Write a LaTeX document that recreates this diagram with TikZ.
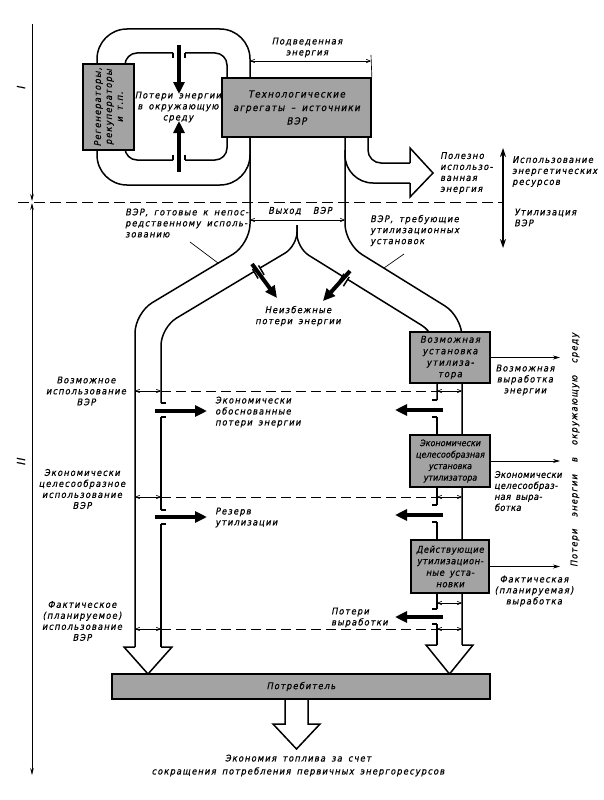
\documentclass[tikz,border=0pt]{standalone}
\usepackage{fontspec}
\setmainfont{DejaVu Sans Condensed}[FakeSlant=0.2, LetterSpace=12, FakeBold=0.6, WordSpace=1.6]
\usetikzlibrary{arrows.meta}
\definecolor{boxgray}{gray}{0.64}
\newcommand\lab{\fontsize{9.3}{11}\selectfont}
\begin{document}
\begin{tikzpicture}[x=1pt,y=-1pt,
  wall/.style={line width=1.5pt},
  thinl/.style={line width=0.65pt},
  gbox/.style={draw, line width=1.7pt, fill=boxgray, inner sep=0pt, align=center, font=\lab},
  lbl/.style={font=\lab, align=center, inner sep=0pt},
  lbll/.style={font=\lab, align=left, inner sep=0pt, anchor=west},
  blk/.style={line width=4pt, -{Triangle[length=12pt,width=11pt]}},
  dimarr/.style={thinl, {Straight Barb[length=4pt,width=3.5pt]}-{Straight Barb[length=4pt,width=3.5pt]}},
  dsh/.style={thinl, dash pattern=on 10pt off 5pt},
  outarr/.style={thinl, -{Stealth[length=7pt,width=4pt]}},
  bigopen/.style={wall, fill=white}]
\useasboundingbox (0,0) rectangle (603,800);
\fill[white] (0,0) rectangle (603,800);

% ---- left axis ----
\coordinate (ax0) at (32,24);
\coordinate (axm1) at (32,201);
\coordinate (axm2) at (32,203);
\coordinate (ax1) at (32,775);
\draw[thinl, -{Stealth[length=7pt,width=3.5pt]}] (ax0) -- (axm1);
\draw[thinl, {Stealth[length=7pt,width=3.5pt]}-{Stealth[length=7pt,width=3.5pt]}] (axm2) -- (ax1);
\node[font=\fontsize{11}{11}\selectfont, rotate=90] (rI) at (21,88) {I};
\node[font=\fontsize{11}{11}\selectfont, rotate=90] (rII) at (21,462) {II};

% ---- top dashed line ----
\coordinate (d0a) at (18,202);
\coordinate (d0b) at (503,202);
\draw[thinl, dash pattern=on 11pt off 5pt] (d0a) -- (d0b);

% ---- loop of regenerators ----
\draw[wall, rounded corners=30] (250,78) -- (250,29) -- (97,29) -- (97,185) -- (250,185) -- (250,137);
\draw[wall, rounded corners=12] (173,53) -- (125,53) -- (125,160) -- (173,160);
\draw[wall, rounded corners=12] (185,53) -- (227,53) -- (227,160) -- (185,160);
\draw[wall] (173,53) -- (173,58) (185,53) -- (185,58) (173,160) -- (173,155) (185,160) -- (185,155);
\coordinate (la0) at (179,45);
\coordinate (la1) at (179,94);
\coordinate (lb0) at (179,172);
\coordinate (lb1) at (179,121);
\draw[blk] (la0) -- (la1);
\draw[blk] (lb0) -- (lb1);
\node[lbl] (lossenv) at (178,107) {Потери энергии\\в окружающую\\среду};

% ---- useful energy arrow ----
\draw[wall, rounded corners=13] (368,137) -- (368,163) -- (410,163);
\draw[bigopen] (410,163) -- (410,148) -- (433,173) -- (410,197) -- (410,183);
\draw[wall, rounded corners=28] (410,183) -- (345,183) -- (345,150);

% ---- output channels ----
\draw[wall, rounded corners=20] (250,137) -- (250,244) -- (135,313) -- (135,647);
\draw[wall, rounded corners=20] (345,137) -- (345,244) -- (462,316.5) -- (462,645);
% left inner wall
\draw[wall, rounded corners=14] (297,225) -- (297,246) -- (260,268);
\draw[wall, rounded corners=18] (254,271.6) -- (161,327.4) -- (161,403);
\draw[wall] (161,417) -- (161,510);
\draw[wall] (161,524) -- (161,647);
\draw[wall] (161,403) -- (166,403) (161,417) -- (166,417) (161,510) -- (166,510) (161,524) -- (166,524);
\draw[wall] (258.5,265.4) -- (264.1,274.9) (252.5,269.0) -- (258.1,278.5);
% right inner wall
\draw[wall, rounded corners=14] (297,225) -- (297,248) -- (342.4,276.2);
\draw[wall, rounded corners=18] (347.6,279.4) -- (437,334.8) -- (437,400);
\draw[wall] (437,417) -- (437,505);
\draw[wall] (437,522) -- (437,609);
\draw[wall] (437,624) -- (437,645);
\draw[wall] (437,400) -- (432,400) (437,417) -- (432,417) (437,505) -- (432,505) (437,522) -- (432,522) (437,609) -- (432,609) (437,624) -- (432,624);
\draw[wall] (344.0,273.7) -- (338.2,283.0) (349.2,276.9) -- (343.4,286.2);

% unavoidable losses
\coordinate (ua0) at (252,264);
\coordinate (ua1) at (277,298);
\coordinate (ub0) at (350,271);
\coordinate (ub1) at (323,301);
\draw[blk] (ua0) -- (ua1);
\draw[blk] (ub0) -- (ub1);
\node[lbl] (unav) at (298,316) {Неизбежные\\потери энергии};

% channel arrowheads into consumer
\draw[bigopen] (135,647) -- (124,647) -- (148,674) -- (172,647) -- (161,647);
\draw[bigopen] (437,645) -- (426,645) -- (449.5,674) -- (473,645) -- (462,645);
\draw[bigopen] (285,699) -- (285,724) -- (273,724) -- (296.5,749) -- (320,724) -- (308,724) -- (308,699);

% ---- boxes ----
\node[gbox, rotate=90, minimum width=86pt, minimum height=51pt] (regen) at (108.5,107) {Регенераторы,\\рекуператоры\\и т.п.};
\node[gbox, minimum width=149pt, minimum height=59pt, font=\fontsize{9.8}{13.5}\selectfont] (tech) at (296.5,107.5) {Технологические\\агрегаты – источники\\ВЭР};
\node[gbox, minimum width=80pt, minimum height=51pt, font=\fontsize{9.5}{11.5}\selectfont] (b1) at (450,357.5) {Возможная\\установка\\утилиза-\\тора};
\node[gbox, minimum width=80pt, minimum height=52pt, font=\fontsize{8.9}{11.5}\selectfont\addfontfeature{LetterSpace=0}] (b2) at (450,461) {Экономически\\целесообразная\\установка\\утилизатора};
\node[gbox, minimum width=78pt, minimum height=53pt, font=\fontsize{9.3}{11.5}\selectfont\addfontfeature{LetterSpace=6}] (b3) at (450,566.5) {Действующие\\утилизацион-\\ные уста-\\новки};
\node[gbox, minimum width=378pt, minimum height=25pt] (cons) at (301,686.5) {Потребитель};

% ---- dimension lines ----
\coordinate (sup0) at (250,61);
\coordinate (sup1) at (371,61);
\draw[dimarr] (sup0) -- (sup1);
\draw[thinl] (371,55) -- (tech.north east);
\node[lbl] (suplab) at (307,47.5) {Подведенная\\энергия};
\coordinate (out0) at (250,220);
\coordinate (out1) at (345,220);
\draw[dimarr] (out0) -- (out1);
\node[lbl] (outlab) at (300,211) {Выход\ \ ВЭР};

% ---- right double arrow ----
\coordinate (ra0) at (503,148);
\coordinate (ra1) at (503,248);
\draw[line width=1.1pt, {Stealth[length=9pt,width=6pt]}-{Stealth[length=9pt,width=6pt]}] (ra0) -- (ra1);
\node[lbll] (useful) at (440,173) {Полезно\\использо-\\ванная\\энергия};
\node[lbll] (useres) at (512,171.5) {Использование\\энергетических\\ресурсов};
\node[lbll] (util) at (514,217.5) {Утилизация\\ВЭР};

% ---- channel labels ----
\node[lbll] (ready) at (125,223) {ВЭР, готовые к непос-\\редственному исполь-\\зованию};
\node[lbll] (need) at (370,230.5) {ВЭР, требующие\\утилизационных\\установок};
\coordinate (rl0) at (190,242);
\coordinate (rl1) at (218,263);
\draw[thinl] (rl0) -- (rl1);
\coordinate (nl0) at (404,254);
\coordinate (nl1) at (384,268);
\draw[thinl] (nl0) -- (nl1);

% ---- levels ----
\foreach \yy in {391,497,629} {
  \draw[dsh] (161,\yy) -- (437,\yy);
  \draw[dimarr] (135,\yy) -- (161,\yy);
  \draw[dimarr] (437,\yy) -- (462,\yy);
}
\draw[dimarr] (437,603) -- (462,603);

\node[lbl] (possuse) at (86,391) {Возможное\\использование\\ВЭР};
\node[lbl] (ecuse) at (82,489) {Экономически\\целесообразное\\использование\\ВЭР};
\node[lbl] (factuse) at (82,621) {Фактическое\\(планируемое)\\использование\\ВЭР};

% leak arrows
\coordinate (k1a) at (155,411); \coordinate (k1b) at (207,411);
\coordinate (k2a) at (155,517); \coordinate (k2b) at (207,517);
\coordinate (k3a) at (443,410); \coordinate (k3b) at (395,410);
\coordinate (k4a) at (443,515); \coordinate (k4b) at (395,515);
\coordinate (k5a) at (443,617); \coordinate (k5b) at (395,617);
\draw[blk] (k1a) -- (k1b);
\draw[blk] (k2a) -- (k2b);
\draw[blk] (k3a) -- (k3b);
\draw[blk] (k4a) -- (k4b);
\draw[blk] (k5a) -- (k5b);
\node[lbll] (ecloss) at (215,412) {Экономически\\обоснованные\\потери энергии};
\node[lbll] (reserve) at (215,517.5) {Резерв\\утилизации};
\node[lbll] (prodloss) at (331,617.5) {Потери\\выработки};

% ---- outputs of utilizers ----
\coordinate (o1) at (560,357.5);
\coordinate (o2) at (560,461);
\coordinate (o3) at (560,566.5);
\draw[outarr] (b1.east) -- (o1);
\draw[outarr] (b2.east) -- (o2);
\draw[outarr] (b3.east) -- (o3);
\node[lbl] (posprod) at (525,380) {Возможная\\выработка\\энергии};
\node[lbll, font=\lab\addfontfeature{LetterSpace=4}] (ecprod) at (494,491) {Экономически\\целесообраз-\\ная выра-\\ботка};
\node[lbl] (factprod) at (534,591) {Фактическая\\(планируемая)\\выработка};
\node[lbl, rotate=90] (envloss) at (575,450) {Потери\ \ энергии\ \ в\ \ окружающую\ \ среду};

% ---- bottom ----
\node[lbl, font=\fontsize{9.3}{13}\selectfont] (saving) at (298,765.5) {Экономия топлива за счет\\сокращения потребления первичных энергоресурсов};
\end{tikzpicture}
\end{document}
